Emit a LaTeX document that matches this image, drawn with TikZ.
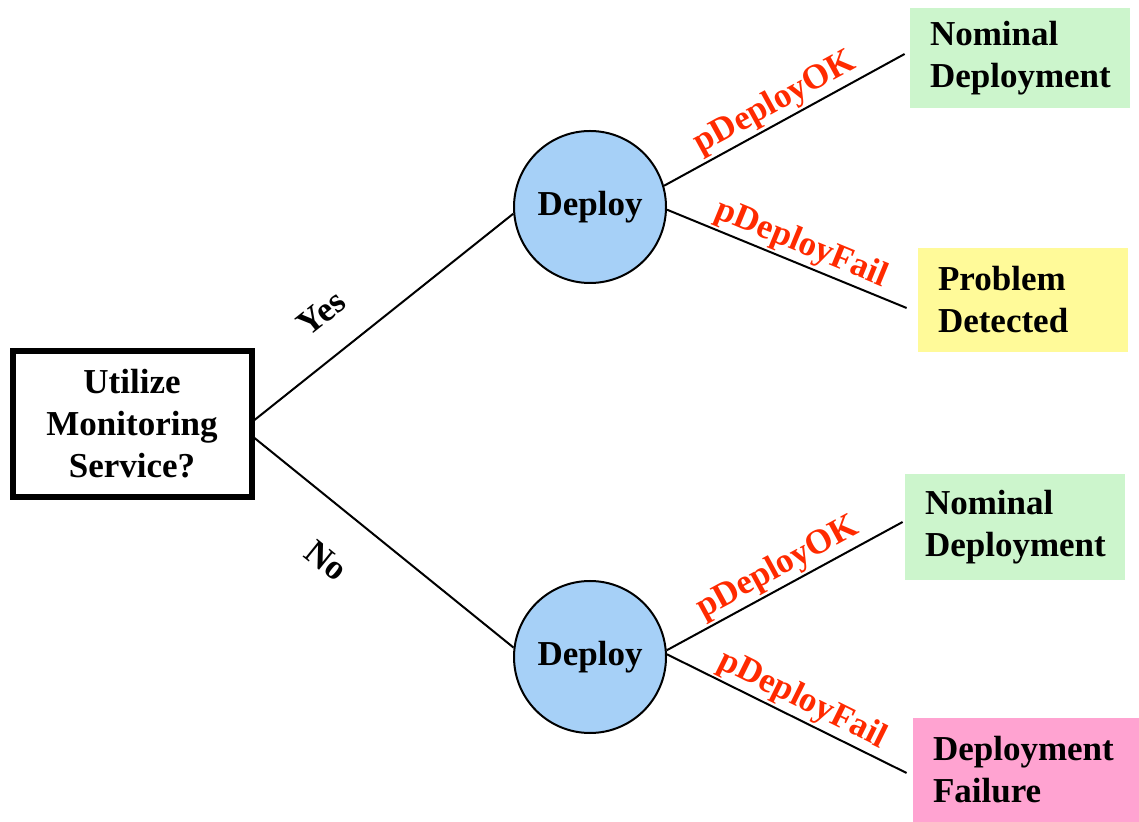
\documentclass[tikz,border=0pt]{standalone}
\usepackage{fontspec}
\setmainfont{Liberation Serif}
\usepackage{tikz}
\usetikzlibrary{positioning}
\definecolor{chanceblue}{HTML}{A6D0F7}
\definecolor{okgreen}{HTML}{CCF5CC}
\definecolor{warnyellow}{HTML}{FFFA99}
\definecolor{failpink}{HTML}{FFA3D1}
\definecolor{probred}{HTML}{FF2A00}

\begin{document}
\begin{tikzpicture}[x=.5pt,y=-.5pt,
  font=\fontsize{17.5}{21}\selectfont\bfseries,
  chance/.style={circle,draw,line width=1pt,fill=chanceblue,minimum size=76pt,inner sep=0pt},
  outcome/.style={align=left,inner xsep=10pt,inner ysep=0pt},
  prob/.style={sloped,above,text=probred,inner sep=1pt},
  branch/.style={line width=1pt}]
\useasboundingbox (0,0) rectangle (1139,822);
\node[draw,line width=3pt,minimum width=119.5pt,minimum height=73pt,align=center] (dec) at (132,424) {Utilize\\Monitoring\\Service?};
\node[chance] (up) at (590,207) {Deploy};
\node[chance] (low) at (590,657) {Deploy};
% outcomes
\node[outcome,fill=okgreen,text width=90pt,minimum height=50pt] (ok1) at (1020,58) {Nominal\\Deployment};
\node[outcome,fill=warnyellow,text width=85pt,minimum height=52pt] (prob) at (1023,300) {Problem\\Detected};
\node[outcome,fill=okgreen,text width=90pt,minimum height=53pt] (ok2) at (1015,527) {Nominal\\Deployment};
\node[outcome,fill=failpink,text width=93pt,minimum height=52pt] (fail) at (1026,770) {Deployment\\Failure};
% decision branches
\draw[branch] ([yshift=2pt]dec.east) -- (up.185) node[sloped,pos=.36,yshift=21pt]{Yes};
\draw[branch] ([yshift=-7pt]dec.east) -- (low.173) node[sloped,pos=.40,yshift=-25pt]{No};
% chance branches
\foreach \a/\o/\dx/\dy/\p/\q in {up.16/ok1/-2.5/2/pDeployOK/.5, up.-2/prob/-5.5/-4/pDeployFail/.53,
  low.5/ok2/-1/2.5/pDeployOK/.51, low.2/fail/-3/-1.5/pDeployFail/.53}
  \draw[branch] (\a) -- ([xshift=\dx pt,yshift=\dy pt]\o.west) node[prob,pos=\q]{\p};
\end{tikzpicture}
\end{document}
